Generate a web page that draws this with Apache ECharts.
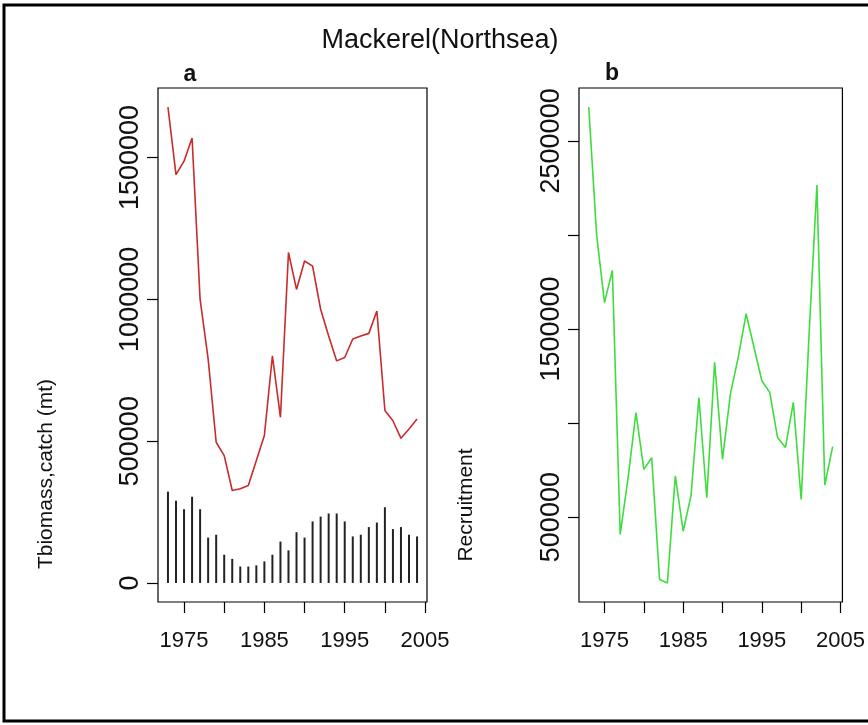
<!DOCTYPE html>
<html><head><meta charset="utf-8">
<script src="https://cdn.jsdelivr.net/npm/echarts@6/dist/echarts.min.js"></script>
<style>html,body{margin:0;padding:0;background:#fff}#c{width:868px;height:725px}</style>
</head><body><div id="c"></div>
<script>
const years = [1973,1974,1975,1976,1977,1978,1979,1980,1981,1982,1983,1984,1985,1986,1987,1988,1989,1990,1991,1992,1993,1994,1995,1996,1997,1998,1999,2000,2001,2002,2003,2004];
const biomass = [1678000,1440000,1487000,1569000,1000000,790000,496000,449000,326000,332000,344000,432000,520000,801000,584000,1165000,1035000,1135000,1117000,965000,871000,783000,795000,860000,871000,880000,959000,608000,572000,510000,543000,578000];
const catchT = [322000,290000,260000,304000,260000,160000,170000,99500,85000,58000,58000,62000,76000,99500,146000,115000,179000,160000,217000,234000,245000,245000,217000,164000,170000,197000,213000,267000,190000,197000,170000,164000];
const recruitment = [2680000,2000000,1640000,1812000,408000,710000,1056000,754000,816000,168000,150000,719000,425000,616000,1136000,603000,1323000,807000,1154000,1350000,1581000,1403000,1225000,1163000,923000,870000,1110000,594000,1470000,2265000,670000,875000];
const xTicks = [1975,1980,1985,1990,1995,2000,2005];
const xLabels = [1975,1985,1995,2005];
const yTicksA = [0,500000,1000000,1500000];
const yLabelsA = [0,500000,1000000,1500000];
const yTicksB = [500000,1000000,1500000,2000000,2500000];
const yLabelsB = [500000,1500000,2500000];

const FONT = "'Liberation Sans', Arial, sans-serif";
function rng(lo, hi){ const d = (hi-lo)*0.04; return [lo-d, hi+d]; }
const xR = rng(Math.min(...years), Math.max(...years));
const yA = rng(0, Math.max(...biomass, ...catchT));
const yB = rng(Math.min(...recruitment), Math.max(...recruitment));

function xAxisCfg(idx){
  return {type:'value', gridIndex:idx, min:xR[0], max:xR[1],
    axisLine:{show:false, onZero:false}, splitLine:{show:false},
    axisTick:{show:true, length:11, customValues:xTicks, lineStyle:{color:'#000', width:1.2}},
    axisLabel:{customValues:xLabels, margin:28, fontSize:22, color:'#111', fontFamily:FONT, formatter:v=>String(v)}};
}
function yAxisCfg(idx, r, ticks, labels){
  return {type:'value', gridIndex:idx, min:r[0], max:r[1],
    axisLine:{show:false, onZero:false}, splitLine:{show:false},
    axisTick:{show:true, length:11, customValues:ticks, lineStyle:{color:'#000', width:1.2}},
    axisLabel:{customValues:labels, rotate:90, margin:14, fontSize:27, color:'#111', fontFamily:FONT, formatter:v=>String(v)}};
}
const gridStyle = {show:true, borderColor:'#000', borderWidth:1.2, backgroundColor:'transparent'};

const chart = echarts.init(document.getElementById('c'), null, {renderer:'canvas'});
chart.setOption({
  animation:false,
  backgroundColor:'#fff',
  grid:[
    Object.assign({left:158, top:88, width:269, height:514}, gridStyle),
    Object.assign({left:579, top:88, width:269, height:514}, gridStyle)
  ],
  xAxis:[xAxisCfg(0), xAxisCfg(1)],
  yAxis:[yAxisCfg(0, yA, yTicksA, yLabelsA), yAxisCfg(1, yB, yTicksB, yLabelsB)],
  series:[
    {type:'bar', xAxisIndex:0, yAxisIndex:0, barWidth:2, silent:true,
      itemStyle:{color:'#222'}, data:years.map((y,i)=>[y,catchT[i]])},
    {type:'line', xAxisIndex:0, yAxisIndex:0, showSymbol:false, silent:true,
      lineStyle:{color:'#c92b2b', width:1.6}, data:years.map((y,i)=>[y,biomass[i]])},
    {type:'line', xAxisIndex:1, yAxisIndex:1, showSymbol:false, silent:true,
      lineStyle:{color:'#3fdc3f', width:1.6}, data:years.map((y,i)=>[y,recruitment[i]])}
  ],
  graphic:[
    {type:'rect', shape:{x:4, y:5, width:900, height:716}, style:{fill:'none', stroke:'#000', lineWidth:3}, silent:true},
    {type:'text', x:440, y:41, style:{text:'Mackerel(Northsea)', font:"27px "+FONT, fill:'#111', textAlign:'center', textVerticalAlign:'middle'}},
    {type:'text', x:190, y:75, style:{text:'a', font:"bold 23px "+FONT, fill:'#111', textAlign:'center', textVerticalAlign:'middle'}},
    {type:'text', x:612, y:74, style:{text:'b', font:"bold 23px "+FONT, fill:'#111', textAlign:'center', textVerticalAlign:'middle'}},
    {type:'text', x:46, y:474, rotation:Math.PI/2, style:{text:'Tbiomass,catch (mt)', font:"21px "+FONT, fill:'#111', textAlign:'center', textVerticalAlign:'middle'}},
    {type:'text', x:466, y:505, rotation:Math.PI/2, style:{text:'Recruitment', font:"21px "+FONT, fill:'#111', textAlign:'center', textVerticalAlign:'middle'}}
  ]
});
</script></body></html>
